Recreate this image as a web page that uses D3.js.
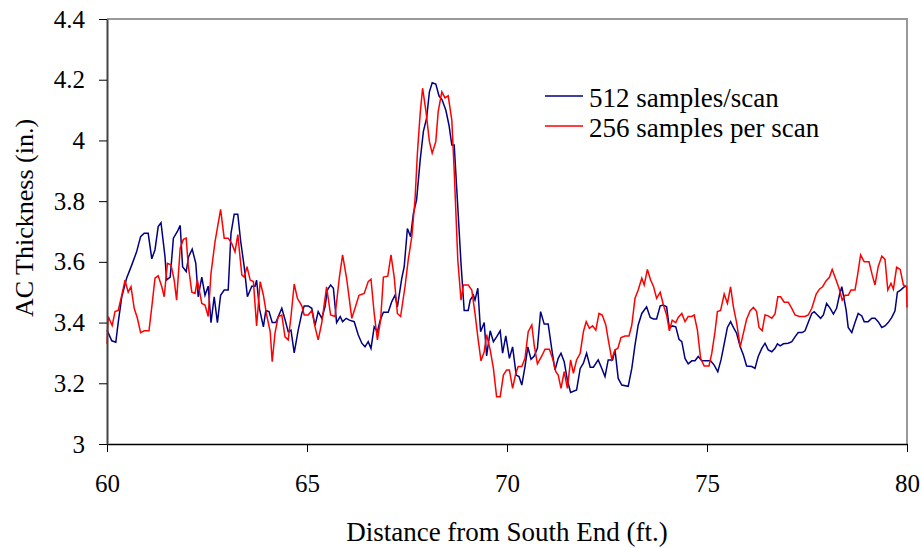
<!DOCTYPE html>
<html>
<head>
<meta charset="utf-8">
<script src="https://cdn.jsdelivr.net/npm/d3@7"></script>
<style>
  body { margin: 0; background: #fff; }
</style>
</head>
<body>
<div id="chart"></div>
<script>
var serif = "Liberation Serif";

// series names
var seriesNames = ["512 samples/scan", "256 samples per scan"];

// distance (ft), thickness (in.)
var samples512 = [
  [60.0,3.375],[60.12,3.34],[60.22,3.335],[60.28,3.40],[60.37,3.485],[60.49,3.546],[60.62,3.59],[60.74,3.633],
  [60.84,3.683],[60.93,3.694],[61.03,3.694],[61.12,3.61],[61.2,3.64],[61.28,3.716],[61.35,3.729],[61.45,3.617],
  [61.49,3.54],[61.58,3.55],[61.66,3.678],[61.76,3.70],[61.83,3.72],[61.89,3.584],[61.98,3.568],[62.04,3.617],
  [62.13,3.642],[62.22,3.595],[62.28,3.485],[62.37,3.55],[62.45,3.49],[62.53,3.52],[62.6,3.40],[62.68,3.485],
  [62.76,3.40],[62.84,3.49],[62.93,3.507],[63.03,3.507],[63.1,3.694],[63.18,3.757],[63.27,3.757],[63.34,3.67],
  [63.43,3.584],[63.51,3.485],[63.62,3.52],[63.7,3.52],[63.74,3.54],[63.81,3.447],[63.91,3.386],[63.97,3.44],
  [64.05,3.436],[64.13,3.40],[64.22,3.40],[64.37,3.447],[64.45,3.41],[64.53,3.37],[64.6,3.375],[64.68,3.30],
  [64.78,3.375],[64.87,3.43],[64.93,3.455],[65.03,3.455],[65.12,3.447],[65.2,3.39],[65.28,3.436],[65.37,3.414],
  [65.45,3.452],[65.51,3.507],[65.59,3.524],[65.66,3.513],[65.74,3.40],[65.83,3.42],[65.89,3.403],[65.98,3.414],
  [66.06,3.408],[66.18,3.403],[66.28,3.36],[66.37,3.332],[66.45,3.32],[66.53,3.337],[66.6,3.315],[66.68,3.386],
  [66.76,3.37],[66.83,3.408],[66.91,3.434],[67.03,3.434],[67.12,3.469],[67.2,3.49],[67.26,3.452],[67.37,3.546],
  [67.43,3.584],[67.51,3.71],[67.59,3.683],[67.66,3.76],[67.74,3.804],[67.83,3.936],[67.91,4.03],[67.99,4.073],
  [68.06,4.16],[68.13,4.19],[68.22,4.186],[68.3,4.147],[68.38,4.133],[68.47,4.10],[68.55,4.05],[68.62,3.985],
  [68.68,3.985],[68.77,3.78],[68.85,3.595],[68.93,3.44],[69.03,3.44],[69.08,3.474],[69.16,3.49],[69.2,3.474],
  [69.27,3.513],[69.34,3.37],[69.43,3.40],[69.49,3.29],[69.58,3.373],[69.66,3.337],[69.74,3.353],[69.83,3.373],
  [69.89,3.299],[69.97,3.356],[70.06,3.282],[70.14,3.32],[70.23,3.227],[70.3,3.222],[70.37,3.194],[70.45,3.255],
  [70.52,3.32],[70.6,3.279],[70.68,3.29],[70.76,3.315],[70.84,3.436],[70.93,3.395],[71.03,3.395],[71.12,3.312],
  [71.2,3.244],[71.28,3.282],[71.35,3.299],[71.43,3.271],[71.51,3.21],[71.59,3.17],[71.74,3.178],[71.83,3.249],
  [71.91,3.266],[71.99,3.299],[72.08,3.253],[72.16,3.253],[72.28,3.277],[72.37,3.249],[72.45,3.222],[72.53,3.277],
  [72.64,3.277],[72.7,3.31],[72.78,3.216],[72.87,3.194],[73.03,3.19],[73.12,3.249],[73.2,3.326],[73.28,3.392],
  [73.37,3.43],[73.49,3.452],[73.58,3.417],[73.66,3.412],[73.74,3.412],[73.83,3.455],[73.91,3.458],[73.99,3.452],
  [74.06,3.381],[74.13,3.389],[74.22,3.386],[74.3,3.345],[74.37,3.337],[74.45,3.282],[74.53,3.264],[74.62,3.274],
  [74.7,3.274],[74.78,3.288],[74.87,3.274],[74.99,3.274],[75.09,3.274],[75.18,3.26],[75.27,3.238],[75.35,3.277],
  [75.43,3.33],[75.51,3.384],[75.59,3.403],[75.66,3.384],[75.74,3.365],[75.83,3.32],[75.91,3.293],[75.99,3.257],
  [76.12,3.255],[76.2,3.249],[76.28,3.288],[76.37,3.315],[76.45,3.332],[76.53,3.31],[76.62,3.304],[76.7,3.315],
  [76.76,3.33],[76.83,3.323],[76.91,3.33],[77.03,3.332],[77.12,3.337],[77.2,3.353],[77.28,3.367],[77.38,3.367],
  [77.45,3.373],[77.53,3.40],[77.62,3.43],[77.68,3.436],[77.76,3.425],[77.84,3.414],[77.91,3.425],[77.99,3.463],
  [78.08,3.447],[78.16,3.428],[78.24,3.447],[78.31,3.49],[78.37,3.518],[78.41,3.49],[78.48,3.44],[78.53,3.384],
  [78.62,3.367],[78.7,3.40],[78.78,3.43],[78.87,3.422],[78.93,3.403],[79.03,3.403],[79.12,3.414],[79.2,3.414],
  [79.28,3.403],[79.37,3.384],[79.45,3.389],[79.53,3.40],[79.62,3.417],[79.7,3.439],[79.76,3.50],[79.84,3.507],
  [79.95,3.52],[80.0,3.517]
];

var samples256 = [
  [60.0,3.33],[60.03,3.42],[60.13,3.39],[60.2,3.436],[60.28,3.44],[60.37,3.49],[60.45,3.54],[60.53,3.50],
  [60.6,3.518],[60.68,3.447],[60.76,3.414],[60.84,3.367],[60.93,3.373],[61.05,3.373],[61.13,3.463],[61.2,3.546],
  [61.28,3.554],[61.37,3.518],[61.43,3.485],[61.51,3.595],[61.6,3.59],[61.68,3.54],[61.74,3.474],[61.83,3.645],
  [61.91,3.674],[61.98,3.678],[62.03,3.59],[62.12,3.50],[62.2,3.496],[62.26,3.54],[62.37,3.463],[62.45,3.458],
  [62.53,3.42],[62.6,3.562],[62.7,3.666],[62.84,3.773],[62.93,3.678],[63.03,3.678],[63.12,3.66],[63.2,3.633],
  [63.27,3.69],[63.37,3.557],[63.43,3.55],[63.5,3.584],[63.58,3.54],[63.66,3.535],[63.74,3.389],[63.83,3.535],
  [63.91,3.49],[63.99,3.425],[64.08,3.37],[64.13,3.271],[64.2,3.365],[64.28,3.42],[64.37,3.425],[64.45,3.353],
  [64.53,3.343],[64.6,3.42],[64.68,3.527],[64.76,3.48],[64.87,3.455],[64.93,3.425],[65.03,3.425],[65.12,3.44],
  [65.2,3.386],[65.28,3.343],[65.37,3.40],[65.49,3.518],[65.59,3.425],[65.7,3.42],[65.81,3.55],[65.89,3.623],
  [65.99,3.546],[66.12,3.414],[66.2,3.447],[66.3,3.49],[66.43,3.496],[66.53,3.535],[66.6,3.543],[66.68,3.43],
  [66.76,3.343],[66.84,3.408],[66.91,3.55],[67.02,3.553],[67.1,3.623],[67.18,3.55],[67.26,3.43],[67.34,3.42],
  [67.45,3.518],[67.53,3.606],[67.62,3.683],[67.7,3.804],[67.76,3.958],[67.83,4.09],[67.89,4.172],[67.98,4.09],
  [68.06,3.996],[68.13,3.958],[68.22,3.996],[68.28,4.095],[68.37,4.16],[68.45,4.14],[68.53,4.147],[68.62,4.067],
  [68.68,3.90],[68.77,3.606],[68.85,3.474],[68.91,3.524],[69.03,3.524],[69.12,3.507],[69.2,3.43],[69.28,3.343],
  [69.35,3.274],[69.43,3.304],[69.49,3.36],[69.58,3.31],[69.66,3.249],[69.74,3.156],[69.83,3.156],[69.91,3.227],
  [69.99,3.244],[70.06,3.244],[70.14,3.183],[70.22,3.233],[70.28,3.255],[70.37,3.255],[70.45,3.282],[70.53,3.37],
  [70.62,3.392],[70.68,3.326],[70.76,3.264],[70.87,3.29],[70.95,3.312],[71.06,3.312],[71.14,3.282],[71.22,3.238],
  [71.28,3.227],[71.35,3.183],[71.43,3.238],[71.51,3.183],[71.59,3.277],[71.66,3.233],[71.74,3.277],[71.83,3.299],
  [71.91,3.37],[71.98,3.403],[72.06,3.381],[72.14,3.389],[72.22,3.375],[72.3,3.43],[72.38,3.425],[72.47,3.392],
  [72.53,3.345],[72.62,3.279],[72.7,3.31],[72.77,3.315],[72.85,3.351],[72.95,3.356],[73.05,3.356],[73.12,3.392],
  [73.2,3.48],[73.28,3.507],[73.37,3.546],[73.43,3.524],[73.51,3.575],[73.59,3.54],[73.66,3.52],[73.74,3.48],
  [73.83,3.50],[73.91,3.458],[73.99,3.425],[74.06,3.373],[74.13,3.408],[74.22,3.40],[74.28,3.417],[74.37,3.43],
  [74.45,3.403],[74.53,3.42],[74.62,3.42],[74.68,3.425],[74.76,3.375],[74.84,3.282],[74.93,3.257],[75.05,3.257],
  [75.12,3.299],[75.2,3.37],[75.26,3.436],[75.34,3.44],[75.43,3.494],[75.51,3.463],[75.59,3.518],[75.66,3.452],
  [75.74,3.40],[75.83,3.32],[75.91,3.365],[75.99,3.411],[76.08,3.439],[76.16,3.45],[76.24,3.436],[76.3,3.384],
  [76.38,3.373],[76.45,3.425],[76.53,3.422],[76.62,3.414],[76.7,3.428],[76.77,3.485],[76.84,3.485],[76.93,3.467],
  [77.03,3.467],[77.12,3.447],[77.2,3.425],[77.31,3.42],[77.45,3.42],[77.53,3.425],[77.62,3.447],[77.73,3.494],
  [77.81,3.51],[77.89,3.518],[77.98,3.538],[78.06,3.549],[78.13,3.575],[78.22,3.543],[78.3,3.513],[78.38,3.474],
  [78.45,3.49],[78.53,3.49],[78.6,3.507],[78.7,3.507],[78.76,3.553],[78.84,3.623],[78.93,3.60],[79.05,3.60],
  [79.13,3.557],[79.2,3.524],[79.28,3.584],[79.37,3.619],[79.45,3.608],[79.52,3.507],[79.6,3.529],[79.66,3.51],
  [79.74,3.582],[79.83,3.575],[79.91,3.524],[79.99,3.518],[80.0,3.45]
];

var xTicks = [60, 65, 70, 75, 80];
var yTicks = [3, 3.2, 3.4, 3.6, 3.8, 4, 4.2, 4.4];

var margin = {top: 19, bottom: 104, left: 107, right: 15};
var viewboxwidth = 922;
var viewboxheight = 548;
var width = viewboxwidth - margin.left - margin.right;
var height = viewboxheight - margin.top - margin.bottom;

var svg = d3.select("#chart")
    .append("svg")
    .attr("width", viewboxwidth)
    .attr("height", viewboxheight)
    .append("g")
    .attr("transform", "translate(" + margin.left + "," + margin.top + ")");

var x = d3.scaleLinear().domain([60, 80]).range([0, width]);
var y = d3.scaleLinear().domain([3, 4.4]).range([height, 0]);

// plot area frame (top and right, light grey)
svg.append("path")
    .attr("d", "M0,0H" + width + "V" + height)
    .style("fill", "none")
    .style("stroke", "#999")
    .style("stroke-width", 2);

// lines
var line = d3.line()
    .x(function(d) { return x(d[0]); })
    .y(function(d) { return y(d[1]); });

svg.append("path")
    .datum(samples512)
    .attr("d", line)
    .style("fill", "none")
    .style("stroke", "#000080")
    .style("stroke-width", 1.5);

svg.append("path")
    .datum(samples256)
    .attr("d", line)
    .style("fill", "none")
    .style("stroke", "#ff0000")
    .style("stroke-width", 1.5);

// axes
var xAxis = svg.append("g")
    .attr("transform", "translate(0," + height + ")")
    .call(d3.axisBottom(x).tickValues(xTicks).tickSize(8).tickPadding(22).tickSizeOuter(0));
xAxis.selectAll("text").style("font-family", serif).style("font-size", "25px").style("fill", "#000");
xAxis.select(".domain").style("stroke", "#000").style("stroke-width", 1.5);

var yAxis = svg.append("g")
    .call(d3.axisLeft(y).tickValues(yTicks).tickSize(8).tickPadding(14).tickSizeOuter(0)
        .tickFormat(function(d) { return String(+d.toFixed(1)); }));
yAxis.selectAll("text").style("font-family", serif).style("font-size", "25px").style("fill", "#000");
yAxis.select(".domain").style("stroke", "#444").style("stroke-width", 2);

// axis titles
svg.append("text")
    .attr("transform", "translate(" + (width / 2) + "," + (viewboxheight - margin.top - 7) + ")")
    .style("text-anchor", "middle")
    .style("font-family", serif)
    .style("font-size", "27px")
    .text("Distance from South End (ft.)");

svg.append("text")
    .attr("transform", "translate(" + (33 - margin.left) + "," + (218 - margin.top) + ") rotate(-90)")
    .style("text-anchor", "middle")
    .style("font-family", serif)
    .style("font-size", "26px")
    .text("AC Thickness (in.)");

// legend
var legend = svg.append("g").attr("transform", "translate(" + (545 - margin.left) + "," + (96 - margin.top) + ")");
var colors = ["#000080", "#ff0000"];
seriesNames.forEach(function(name, i) {
    legend.append("line")
        .attr("x1", 0).attr("x2", 38)
        .attr("y1", i * 30).attr("y2", i * 30)
        .style("stroke", colors[i])
        .style("stroke-width", 1.5);
    legend.append("text")
        .attr("x", 44)
        .attr("y", i * 30 + 11)
        .style("font-family", serif)
        .style("font-size", "27px")
        .text(name);
});
</script>
</body>
</html>
